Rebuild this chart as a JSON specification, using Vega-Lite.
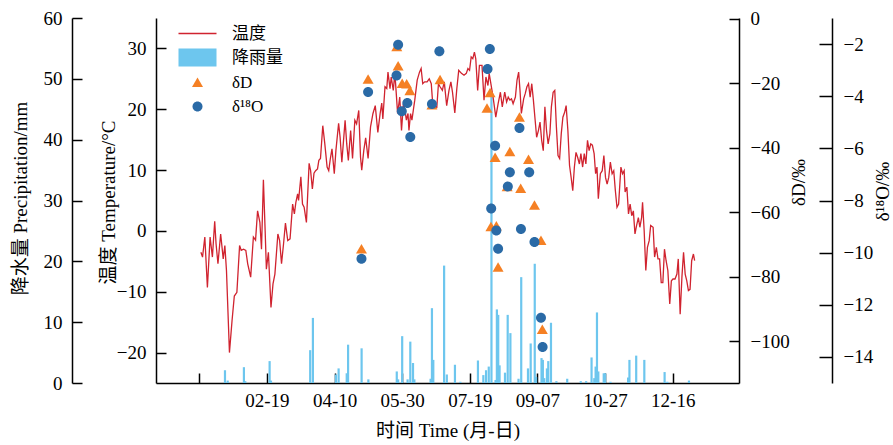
{
  "$schema": "https://vega.github.io/schema/vega-lite/v6.json",
  "width": 583,
  "height": 365,
  "autosize": {"type": "none"},
  "padding": {"left": 156, "top": 18, "right": 154, "bottom": 62},
  "background": "white",
  "config": {
    "view": {"stroke": null},
    "axis": {
      "labelFont": "Liberation Serif",
      "titleFont": "Liberation Serif, Noto Sans CJK SC",
      "labelFontSize": 19,
      "titleFontSize": 19,
      "titleFontWeight": "normal",
      "labelColor": "#000",
      "titleColor": "#000",
      "domainColor": "#000",
      "tickColor": "#000",
      "domainWidth": 1.5,
      "tickWidth": 1.5,
      "grid": false
    }
  },
  "datasets": {
    "temp": [
      {"day":1.2,"t":-3.5},{"day":2.4,"t":-4.3},{"day":4.1,"t":-1.0},{"day":6.0,"t":-9.3},{"day":8.0,"t":-1.0},{"day":9.7,"t":-4.3},{"day":11.4,"t":1.6},{"day":12.4,"t":-2.1},{"day":13.8,"t":-5.4},{"day":15.8,"t":-0.5},{"day":17.7,"t":-4.6},{"day":18.9,"t":-2.4},{"day":20.1,"t":-6.5},{"day":22.3,"t":-20.0},{"day":24.2,"t":-14.8},{"day":25.9,"t":-10.7},{"day":27.8,"t":-10.1},{"day":29.8,"t":-2.4},{"day":31.0,"t":-3.2},{"day":32.7,"t":-3.0},{"day":34.4,"t":-3.2},{"day":35.8,"t":-5.4},{"day":38.0,"t":-7.6},{"day":40.0,"t":-1.0},{"day":41.6,"t":-1.5},{"day":43.1,"t":3.3},{"day":44.8,"t":1.4},{"day":46.0,"t":-3.0},{"day":47.4,"t":8.4},{"day":48.7,"t":0},{"day":49.6,"t":-6.3},{"day":51.1,"t":-3.5},{"day":53.0,"t":-12.6},{"day":54.5,"t":-8.7},{"day":55.9,"t":-7.1},{"day":58.1,"t":-0.5},{"day":59.4,"t":-1.6},{"day":60.8,"t":-5.4},{"day":62.3,"t":-2.1},{"day":63.7,"t":1.3},{"day":65.4,"t":-1.6},{"day":67.1,"t":-1.3},{"day":69.0,"t":4.4},{"day":70.3,"t":2.8},{"day":71.4,"t":4.7},{"day":72.7,"t":6.1},{"day":73.4,"t":5.0},{"day":75.1,"t":8.9},{"day":76.3,"t":4.4},{"day":77.5,"t":3.9},{"day":79.2,"t":1.4},{"day":81.2,"t":11.1},{"day":82.3,"t":9.9},{"day":83.6,"t":6.9},{"day":84.8,"t":9.5},{"day":86.0,"t":9.9},{"day":87.4,"t":10.2},{"day":88.4,"t":11.6},{"day":89.6,"t":11.9},{"day":91.3,"t":17.3},{"day":92.8,"t":14.3},{"day":94.5,"t":10.5},{"day":95.7,"t":9.9},{"day":96.9,"t":11.9},{"day":98.1,"t":13.5},{"day":99.8,"t":9.4},{"day":101.0,"t":13.2},{"day":103.0,"t":17.7},{"day":104.1,"t":15.4},{"day":105.4,"t":11.3},{"day":107.8,"t":18.2},{"day":109.0,"t":14.3},{"day":110.2,"t":11.6},{"day":111.9,"t":16.5},{"day":113.3,"t":11.9},{"day":115.0,"t":18.2},{"day":116.3,"t":17.6},{"day":117.9,"t":19.8},{"day":119.2,"t":12.1},{"day":120.1,"t":10.0},{"day":121.6,"t":13.2},{"day":123.0,"t":15.3},{"day":124.8,"t":11.9},{"day":126.6,"t":17.1},{"day":128.4,"t":19.3},{"day":130.1,"t":20.6},{"day":132.0,"t":16.2},{"day":133.7,"t":19.3},{"day":134.9,"t":21.0},{"day":135.7,"t":18.4},{"day":137.3,"t":23.7},{"day":138.6,"t":23.4},{"day":139.5,"t":26.1},{"day":141.0,"t":23.4},{"day":141.9,"t":25.3},{"day":143.4,"t":23.1},{"day":144.6,"t":25.9},{"day":145.8,"t":22.0},{"day":146.6,"t":19.3},{"day":148.2,"t":22.0},{"day":149.5,"t":16.5},{"day":150.9,"t":20.9},{"day":152.1,"t":19.8},{"day":153.1,"t":18.2},{"day":154.3,"t":19.3},{"day":155.0,"t":16.5},{"day":156.2,"t":19.3},{"day":157.2,"t":18.2},{"day":158.2,"t":19.8},{"day":159.3,"t":21.5},{"day":161.1,"t":24.8},{"day":162.8,"t":26.1},{"day":164.0,"t":26.7},{"day":165.2,"t":24.2},{"day":166.6,"t":24.5},{"day":168.4,"t":24.5},{"day":170.0,"t":25.0},{"day":171.5,"t":24.2},{"day":172.7,"t":20.5},{"day":174.4,"t":20.4},{"day":175.6,"t":20.3},{"day":176.8,"t":24.2},{"day":178.0,"t":23.7},{"day":179.7,"t":23.1},{"day":181.1,"t":24.5},{"day":182.9,"t":20.6},{"day":184.6,"t":23.1},{"day":186.0,"t":24.5},{"day":187.2,"t":22.8},{"day":188.9,"t":19.4},{"day":190.4,"t":23.4},{"day":191.8,"t":26.4},{"day":193.8,"t":25.9},{"day":195.7,"t":25.6},{"day":197.4,"t":25.9},{"day":198.6,"t":26.7},{"day":199.8,"t":26.4},{"day":201.0,"t":28.6},{"day":202.2,"t":28.3},{"day":203.4,"t":29.4},{"day":204.4,"t":28.3},{"day":205.8,"t":23.1},{"day":207.1,"t":27.2},{"day":209.0,"t":27.2},{"day":210.5,"t":21.5},{"day":211.9,"t":25.3},{"day":213.4,"t":23.9},{"day":214.3,"t":25.9},{"day":215.8,"t":23.9},{"day":217.2,"t":22.0},{"day":219.2,"t":18.7},{"day":220.9,"t":20.9},{"day":222.6,"t":22.8},{"day":224.0,"t":20.4},{"day":225.8,"t":22.8},{"day":227.2,"t":21.2},{"day":228.4,"t":22.0},{"day":229.6,"t":21.5},{"day":230.8,"t":21.7},{"day":232.0,"t":20.9},{"day":233.7,"t":22.0},{"day":234.9,"t":24.8},{"day":236.1,"t":26.1},{"day":237.1,"t":23.1},{"day":238.1,"t":19.3},{"day":239.8,"t":21.7},{"day":241.0,"t":22.6},{"day":242.2,"t":23.7},{"day":243.4,"t":24.2},{"day":244.6,"t":22.0},{"day":245.8,"t":24.2},{"day":247.0,"t":21.5},{"day":248.3,"t":18.2},{"day":249.4,"t":15.4},{"day":250.7,"t":16.5},{"day":251.9,"t":17.9},{"day":253.1,"t":14.9},{"day":254.3,"t":13.2},{"day":255.5,"t":20.4},{"day":256.7,"t":16.5},{"day":257.9,"t":14.3},{"day":259.2,"t":16.0},{"day":260.3,"t":20.4},{"day":261.6,"t":22.8},{"day":262.8,"t":23.1},{"day":264.0,"t":17.1},{"day":265.2,"t":12.4},{"day":266.4,"t":11.9},{"day":267.6,"t":16.0},{"day":268.8,"t":18.7},{"day":270.1,"t":19.5},{"day":271.2,"t":20.6},{"day":272.5,"t":16.5},{"day":273.7,"t":10.8},{"day":274.9,"t":8.8},{"day":276.1,"t":6.6},{"day":277.3,"t":10.5},{"day":278.5,"t":12.9},{"day":279.7,"t":12.1},{"day":281.0,"t":11.0},{"day":282.1,"t":12.7},{"day":283.4,"t":10.5},{"day":284.6,"t":12.7},{"day":285.8,"t":11.0},{"day":287.0,"t":14.9},{"day":288.2,"t":13.2},{"day":289.4,"t":14.3},{"day":290.6,"t":14.1},{"day":291.9,"t":12.7},{"day":293.0,"t":9.4},{"day":294.0,"t":10.5},{"day":295.0,"t":5.3},{"day":296.5,"t":9.4},{"day":297.9,"t":9.9},{"day":299.1,"t":12.4},{"day":300.3,"t":8.8},{"day":301.5,"t":7.7},{"day":302.7,"t":8.8},{"day":303.9,"t":11.3},{"day":305.2,"t":9.4},{"day":306.4,"t":9.9},{"day":307.6,"t":6.6},{"day":308.8,"t":3.9},{"day":310.0,"t":4.4},{"day":311.7,"t":10.5},{"day":312.9,"t":9.4},{"day":314.1,"t":9.9},{"day":314.8,"t":6.4},{"day":316.1,"t":7.2},{"day":317.3,"t":2.8},{"day":318.5,"t":4.4},{"day":319.7,"t":2.5},{"day":320.9,"t":3.3},{"day":322.1,"t":-0.5},{"day":323.3,"t":0.9},{"day":324.6,"t":2.2},{"day":325.7,"t":0.6},{"day":327.0,"t":2.2},{"day":327.7,"t":4.7},{"day":328.9,"t":0},{"day":330.1,"t":-6.5},{"day":331.3,"t":-2.7},{"day":332.6,"t":-1.6},{"day":333.7,"t":0.9},{"day":335.5,"t":0.6},{"day":336.6,"t":-4.3},{"day":337.9,"t":-2.7},{"day":339.1,"t":-4.6},{"day":340.3,"t":-4.6},{"day":341.5,"t":-8.5},{"day":342.7,"t":-8.5},{"day":343.9,"t":-3.0},{"day":345.1,"t":-4.9},{"day":346.4,"t":-6.5},{"day":347.8,"t":-12.0},{"day":349.0,"t":-8.2},{"day":350.2,"t":-7.9},{"day":351.7,"t":-7.9},{"day":353.1,"t":-7.1},{"day":354.1,"t":-4.6},{"day":355.5,"t":-13.7},{"day":356.8,"t":-7.6},{"day":358.0,"t":-3.5},{"day":359.2,"t":-7.1},{"day":360.4,"t":-8.2},{"day":361.6,"t":-9.8},{"day":362.8,"t":-9.6},{"day":364.0,"t":-4.9},{"day":365.3,"t":-3.8},{"day":366.2,"t":-4.9}
    ],
    "precip": [
      {"day":19,"p":2.1},{"day":21,"p":0.4},{"day":33,"p":2.6},{"day":34,"p":0.3},{"day":52,"p":3.6},{"day":53,"p":0.4},{"day":82,"p":5.4},{"day":84,"p":10.7},{"day":101,"p":1.4},{"day":103,"p":2.4},{"day":109,"p":1.6},{"day":110,"p":6.3},{"day":120,"p":5.7},{"day":125,"p":0.6},{"day":146,"p":1.9},{"day":147,"p":0.6},{"day":150,"p":7.7},{"day":154,"p":0.6},{"day":156,"p":6.8},{"day":158,"p":3.3},{"day":159,"p":0.6},{"day":171,"p":0.7},{"day":172,"p":12.3},{"day":173,"p":3.8},{"day":181,"p":19.3},{"day":183,"p":1.4},{"day":189,"p":3.0},{"day":193,"p":0.2},{"day":206,"p":3.7},{"day":210,"p":1.3},{"day":212,"p":2.1},{"day":214,"p":2.7},{"day":216,"p":47.5},{"day":219,"p":0.5},{"day":220,"p":12.1},{"day":221,"p":11.2},{"day":222,"p":2.9},{"day":226,"p":1.7},{"day":228,"p":11.2},{"day":230,"p":8.2},{"day":236,"p":0.7},{"day":238,"p":17.4},{"day":243,"p":2.4},{"day":245,"p":6.5},{"day":248,"p":19.6},{"day":249,"p":1.0},{"day":253,"p":4.1},{"day":254,"p":3.8},{"day":255,"p":0.8},{"day":257,"p":2.4},{"day":258,"p":3.6},{"day":260,"p":9.9},{"day":264,"p":0.3},{"day":272,"p":0.7},{"day":282,"p":0.3},{"day":286,"p":0.3},{"day":290,"p":4.2},{"day":292,"p":0.8},{"day":293,"p":2.7},{"day":294,"p":11.6},{"day":295,"p":1.9},{"day":299,"p":1.6},{"day":300,"p":1.6},{"day":304,"p":0.2},{"day":317,"p":0.9},{"day":318,"p":3.8},{"day":323,"p":4.5},{"day":329,"p":3.8},{"day":344,"p":1.8},{"day":346,"p":0.2},{"day":362,"p":0.4}
    ],
    "dD": [
      {"day":119.9,"v":-71.4},{"day":124.8,"v":-18.7},{"day":146.0,"v":-8.6},{"day":147.0,"v":-14.6},{"day":150.0,"v":-20.0},{"day":153.3,"v":-20.2},{"day":155.7,"v":-22.3},{"day":172.0,"v":-26.7},{"day":178.0,"v":-18.9},{"day":212.7,"v":-27.7},{"day":215.0,"v":-22.9},{"day":215.6,"v":-64.5},{"day":218.7,"v":-43.0},{"day":219.6,"v":-64.3},{"day":220.9,"v":-77.1},{"day":227.6,"v":-52.1},{"day":229.6,"v":-41.2},{"day":236.7,"v":-30.5},{"day":237.6,"v":-52.6},{"day":243.4,"v":-43.6},{"day":247.8,"v":-57.8},{"day":252.6,"v":-68.8},{"day":253.6,"v":-96.4}
    ],
    "d18O": [
      {"day":119.9,"v":-10.23},{"day":124.8,"v":-3.84},{"day":147.0,"v":-2.03},{"day":145.8,"v":-3.21},{"day":149.7,"v":-4.58},{"day":153.8,"v":-4.26},{"day":156.0,"v":-5.56},{"day":172.0,"v":-4.30},{"day":177.5,"v":-2.28},{"day":213.1,"v":-2.96},{"day":214.8,"v":-2.19},{"day":215.8,"v":-8.31},{"day":218.7,"v":-5.90},{"day":219.6,"v":-9.15},{"day":220.9,"v":-9.85},{"day":228.1,"v":-7.46},{"day":229.6,"v":-6.92},{"day":236.7,"v":-5.22},{"day":237.8,"v":-9.09},{"day":243.9,"v":-6.92},{"day":247.8,"v":-9.59},{"day":252.6,"v":-12.50},{"day":253.8,"v":-13.62}
    ]
  },
  "encoding": {
    "x": {
      "field": "day",
      "type": "quantitative",
      "scale": {"domain": [-28.3, 395.3], "nice": false, "zero": false},
      "axis": {
        "values": [0, 50, 100, 150, 200, 250, 300, 350],
        "labelExpr": "datum.value == 0 ? '' : timeFormat(datetime(2019, 0, datum.value), '%m-%d')",
        "tickSize": -10,
        "labelPadding": 18,
        "title": "时间 Time (月-日)",
        "titlePadding": 11
      }
    }
  },
  "layer": [
    {
      "data": {"name": "precip"},
      "mark": {"type": "bar", "orient": "vertical", "size": 2.2, "color": "#6dc6ee"},
      "encoding": {
        "y": {
          "field": "p",
          "type": "quantitative",
          "scale": {"domain": [0, 60], "nice": false},
          "axis": {
            "orient": "left",
            "offset": 84,
            "values": [0, 10, 20, 30, 40, 50, 60],
            "tickSize": -10,
            "labelPadding": 20,
            "title": "降水量 Precipitation/mm",
            "titleAngle": 270,
            "titleBaseline": "middle",
            "titleAlign": "center",
            "titleX": -52,
            "titleY": 180
          }
        }
      }
    },
    {
      "data": {"name": "temp"},
      "mark": {"type": "line", "color": "#d0232f", "strokeWidth": 1.3},
      "encoding": {
        "y": {
          "field": "t",
          "type": "quantitative",
          "scale": {"domain": [-25, 35], "nice": false, "zero": false},
          "axis": {
            "orient": "left",
            "offset": 0,
            "values": [-20, -10, 0, 10, 20, 30],
            "tickSize": -10,
            "labelPadding": 20,
            "title": "温度 Temperature/°C",
            "titleAngle": 270,
            "titleBaseline": "middle",
            "titleAlign": "center",
            "titleX": -48,
            "titleY": 184
          }
        }
      }
    },
    {
      "data": {"name": "dD"},
      "mark": {"type": "point", "filled": true, "size": 100, "opacity": 1},
      "encoding": {
        "y": {
          "field": "v",
          "type": "quantitative",
          "scale": {"domain": [-113, 0.3], "nice": false, "zero": false},
          "axis": {
            "orient": "right",
            "offset": 0,
            "values": [0, -20, -40, -60, -80, -100],
            "tickSize": -10,
            "labelPadding": 21,
            "title": "δD/‰",
            "titleAngle": 270,
            "titleBaseline": "middle",
            "titleAlign": "center",
            "titleX": 59,
            "titleY": 164
          }
        },
        "color": {
          "datum": "δD",
          "type": "nominal",
          "scale": {"domain": ["温度", "降雨量", "δD", "δ¹⁸O"], "range": ["#d0232f", "#6dc6ee", "#f58024", "#2a6aa6"]},
          "legend": {
            "title": null,
            "orient": "none",
            "legendX": 33,
            "legendY": 7,
            "labelFont": "Liberation Serif, Noto Sans CJK SC",
            "labelFontSize": 17,
            "labelColor": "#000",
            "labelOffset": 26,
            "rowPadding": 6,
            "symbolSize": 100,
            "symbolStrokeWidth": 0,
            "symbolOpacity": 1
          }
        },
        "shape": {
          "datum": "δD",
          "type": "nominal",
          "scale": {"domain": ["温度", "降雨量", "δD", "δ¹⁸O"], "range": ["M-3.8,-0.15H3.8V0.15H-3.8Z", "M-3.8,-1.8H3.8V1.8H-3.8Z", "M0,-1L1.1,0.9H-1.1Z", "M-1,0A1,1,0,1,0,1,0A1,1,0,1,0,-1,0Z"]}
        }
      }
    },
    {
      "data": {"name": "d18O"},
      "mark": {"type": "point", "filled": true, "size": 100, "opacity": 1},
      "encoding": {
        "y": {
          "field": "v",
          "type": "quantitative",
          "scale": {"domain": [-15, -1], "nice": false, "zero": false},
          "axis": {
            "orient": "right",
            "offset": 93,
            "values": [-2, -4, -6, -8, -10, -12, -14],
            "tickSize": -13,
            "labelPadding": 24,
            "title": "δ¹⁸O/‰",
            "titleAngle": 270,
            "titleBaseline": "middle",
            "titleAlign": "center",
            "titleX": 50,
            "titleY": 173
          }
        },
        "color": {
          "datum": "δ¹⁸O",
          "type": "nominal",
          "scale": {"domain": ["温度", "降雨量", "δD", "δ¹⁸O"], "range": ["#d0232f", "#6dc6ee", "#f58024", "#2a6aa6"]}
        },
        "shape": {
          "datum": "δ¹⁸O",
          "type": "nominal",
          "scale": {"domain": ["温度", "降雨量", "δD", "δ¹⁸O"], "range": ["M-3.8,-0.15H3.8V0.15H-3.8Z", "M-3.8,-1.8H3.8V1.8H-3.8Z", "M0,-1L1.1,0.9H-1.1Z", "M-1,0A1,1,0,1,0,1,0A1,1,0,1,0,-1,0Z"]}
        }
      }
    }
  ],
  "resolve": {"scale": {"y": "independent"}}
}
